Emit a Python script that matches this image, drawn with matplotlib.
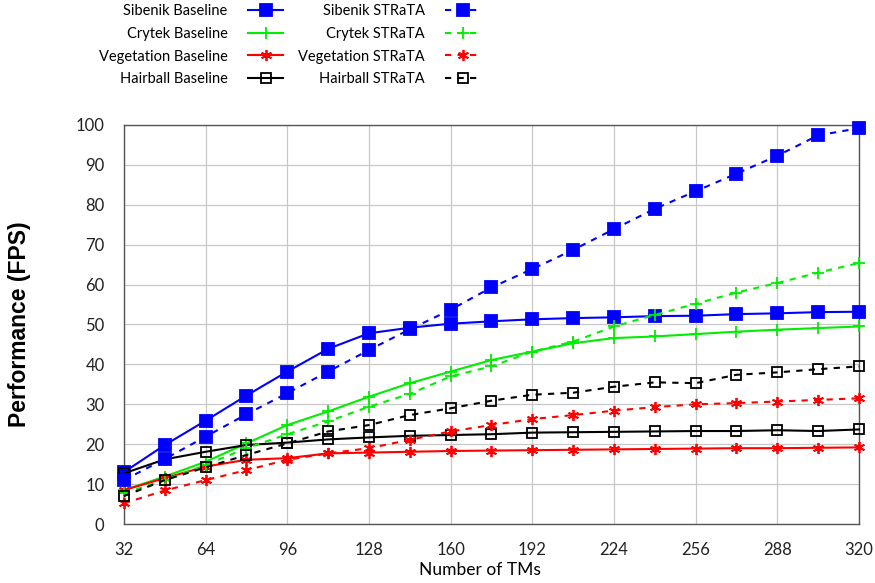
import numpy as np
import matplotlib
matplotlib.use("Agg")
import matplotlib.pyplot as plt

tms = [32, 48, 64, 80, 96, 112, 128, 144, 160, 176, 192, 208, 224, 240, 256, 272, 288, 304, 320]

sibenik_base = [13.0, 19.8, 25.9, 32.2, 38.2, 43.9, 47.8, 49.2, 50.2, 50.8, 51.3, 51.6, 51.8, 52.1, 52.2, 52.6, 52.8, 53.1, 53.2]
sibenik_strata = [11.0, 16.3, 21.9, 27.5, 32.8, 38.2, 43.6, 48.8, 53.7, 59.3, 63.9, 68.7, 73.9, 79.0, 83.4, 87.8, 92.3, 97.4, 99.2]
crytek_base = [8.5, 11.9, 15.6, 20.2, 24.8, 28.2, 31.9, 35.3, 38.2, 41.1, 43.2, 45.3, 46.6, 47.0, 47.6, 48.2, 48.7, 49.1, 49.5]
crytek_strata = [7.7, 11.0, 14.8, 19.0, 22.5, 25.7, 29.4, 32.6, 37.0, 39.5, 43.2, 45.7, 49.5, 52.4, 55.2, 58.0, 60.4, 63.0, 65.4]
veg_base = [8.5, 11.5, 14.4, 16.1, 16.5, 17.7, 17.9, 18.1, 18.3, 18.4, 18.5, 18.6, 18.7, 18.8, 18.9, 19.0, 19.0, 19.1, 19.2]
veg_strata = [5.2, 8.4, 11.0, 13.5, 16.1, 17.7, 19.0, 21.1, 23.2, 24.8, 26.3, 27.3, 28.4, 29.3, 30.0, 30.3, 30.7, 31.1, 31.5]
hair_base = [12.7, 16.2, 18.1, 19.8, 20.4, 21.2, 21.7, 22.1, 22.3, 22.5, 22.9, 23.0, 23.1, 23.2, 23.3, 23.3, 23.5, 23.3, 23.7]
hair_strata = [7.0, 11.0, 14.2, 17.3, 20.2, 23.2, 24.8, 27.3, 29.0, 30.9, 32.4, 32.9, 34.4, 35.5, 35.3, 37.4, 38.0, 38.8, 39.5]

xticks = [32, 64, 96, 128, 160, 192, 224, 256, 288, 320]
yticks = list(range(0, 101, 10))

fig = plt.figure(figsize=(8.75, 5.83), dpi=100)
ax = fig.add_axes([0.1417, 0.1012, 0.84, 0.6844])

asterisk = (6, 2, 0)
series = [
    ("Sibenik Baseline", sibenik_base, "#0000ff", "s", "-", 8, "full"),
    ("Crytek Baseline", crytek_base, "#00ee00", "+", "-", 8.5, "full"),
    ("Vegetation Baseline", veg_base, "#ff0000", asterisk, "-", 8, "full"),
    ("Hairball Baseline", hair_base, "black", "s", "-", 6.5, "none"),
    ("Sibenik STRaTA", sibenik_strata, "#0000ff", "s", "--", 8, "full"),
    ("Crytek STRaTA", crytek_strata, "#00ee00", "+", "--", 8.5, "full"),
    ("Vegetation STRaTA", veg_strata, "#ff0000", asterisk, "--", 8, "full"),
    ("Hairball STRaTA", hair_strata, "black", "s", "--", 6.5, "none"),
]

for label, vals, col, mk, ls, ms, fill in series:
    line, = ax.plot(tms, vals, color=col, marker=mk, linestyle=ls, linewidth=1.5,
                    markersize=ms, markeredgewidth=1.3, fillstyle=fill,
                    label=label, clip_on=False, zorder=3)
    if ls == "--":
        line.set_dashes((3, 3))

ax.set_xlim(32, 320)
ax.set_ylim(0, 100)
ax.set_xticks(xticks)
ax.set_yticks(yticks)
ax.grid(True, color="#c8c8c8", linewidth=0.9)
ax.set_axisbelow(True)
for s in ax.spines.values():
    s.set_color("#555555")
    s.set_linewidth(1.0)
ax.tick_params(length=0, labelsize=12, colors="#222222")
ax.tick_params(axis="y", pad=14)
ax.tick_params(axis="x", pad=13)
for t in ax.get_xticklabels() + ax.get_yticklabels():
    t.set_family(["Lato", "DejaVu Sans"])

ax.set_xlabel("Number of TMs", fontsize=12.5, family=["Lato", "DejaVu Sans"])
ax.xaxis.set_label_coords(0.484, -0.095)
ax.set_ylabel("Performance (FPS)", fontsize=16.5, fontweight="bold",
              family=["Liberation Sans", "DejaVu Sans"])
ax.yaxis.set_label_coords(-0.127, 0.5)

# legend: two columns, labels right-aligned left of the handles
handles, labels = ax.get_legend_handles_labels()
legprops = {"family": ["Lato", "DejaVu Sans"], "size": 10.5}
for col, xr in [(0, 283 / 875), (1, 480 / 875)]:
    leg = fig.legend(handles[col * 4:col * 4 + 4], labels[col * 4:col * 4 + 4],
                     loc="upper right", bbox_to_anchor=(xr, 0.993),
                     frameon=False, markerfirst=False, handlelength=2.4,
                     handletextpad=1.4, labelspacing=0.6, borderpad=0,
                     borderaxespad=0, prop=legprops)

fig.savefig("out.png", dpi=100)
